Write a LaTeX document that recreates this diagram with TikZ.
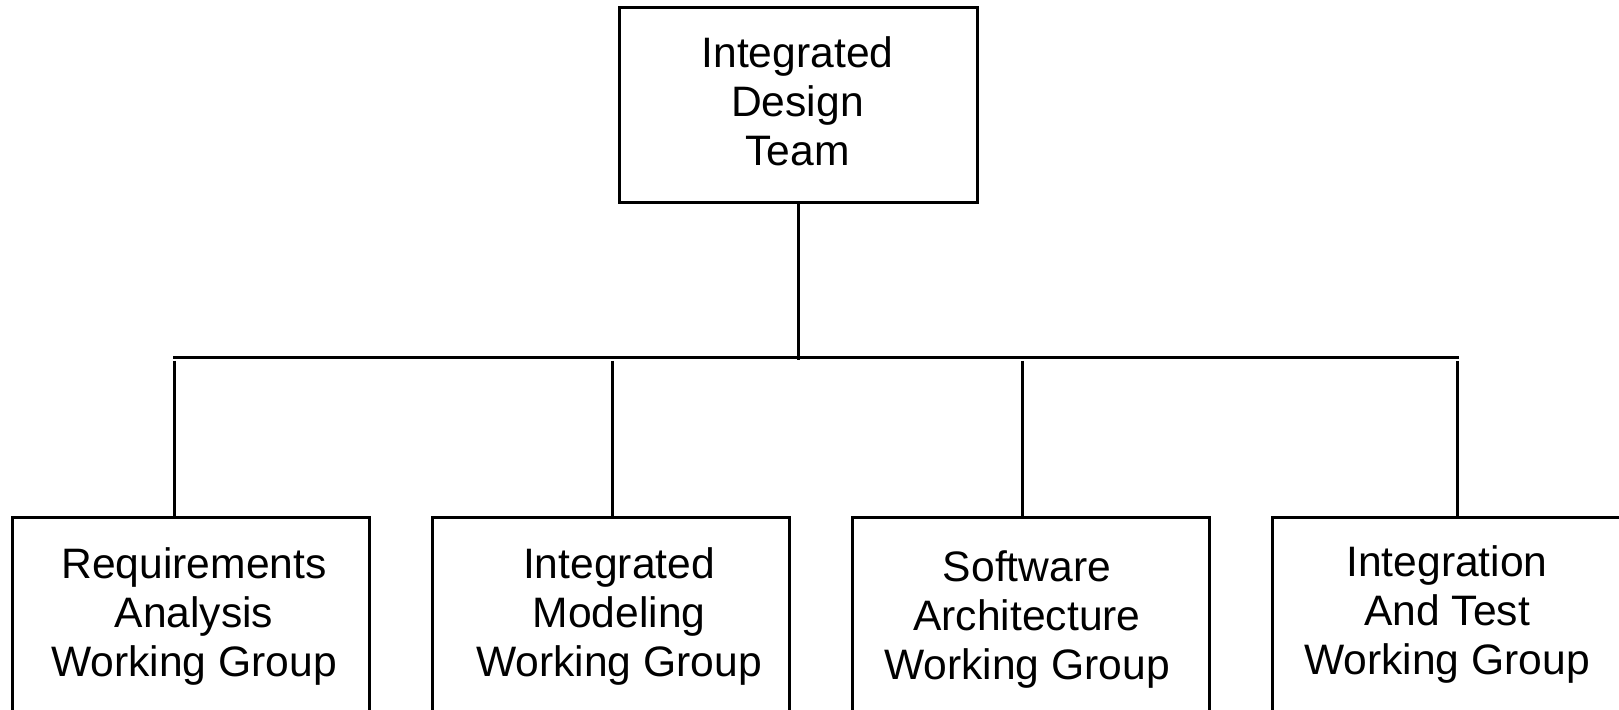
\documentclass[tikz,border=0pt]{standalone}
\usepackage{fontspec}
\setmainfont{Liberation Sans}
\begin{document}
\begin{tikzpicture}[x=0.5pt,y=-0.5pt,
  line width=1.5pt,
  topbox/.style={draw,inner sep=0pt,minimum width=179pt,minimum height=97.5pt},
  wgbox/.style={draw,inner sep=0pt,minimum width=178.5pt,minimum height=191pt},
  lbl/.style={inner sep=0pt,align=center,font=\fontsize{21.3pt}{24.5pt}\selectfont}]
\useasboundingbox (0,0) rectangle (1619,710);
\fill[white] (0,0) rectangle (1619,710);
\clip (0,0) rectangle (1619,710);
% top box
\node[topbox] (idt) at (798,105.5) {};
\node[lbl] (idtt) at (797.5,101) {Integrated\\Design\\Team};
% bottom boxes (cut off by the lower edge)
\node[wgbox] (ra) at (190.5,709) {};
\node[wgbox] (im) at (610.5,709) {};
\node[wgbox] (sa) at (1030.5,709) {};
\node[wgbox] (it) at (1450.5,709) {};
\node[lbl] (rat) at (194,616) {Requirements\\Analysis\\Working Group};
\node[lbl] (imt) at (619,616) {Integrated\\Modeling\\Working Group};
\node[lbl] (sat) at (1027,620) {Software\\Architecture\\Working Group};
\node[lbl] (itt) at (1447,614) {Integration\\And Test\\Working Group};
% bus
\coordinate (bl) at (173,358);
\coordinate (br) at (1459,358);
\coordinate (bc) at (798,360);
\coordinate (b1) at (174,361);
\coordinate (b2) at (612,361);
\coordinate (b3) at (1022,361);
\coordinate (b4) at (1457,361);
\draw (bl) -- (br);
\draw (idt.south -| bc) -- (bc);
\draw (b1) -- (b1 |- ra.north);
\draw (b2) -- (b2 |- im.north);
\draw (b3) -- (b3 |- sa.north);
\draw (b4) -- (b4 |- it.north);
\end{tikzpicture}
\end{document}
